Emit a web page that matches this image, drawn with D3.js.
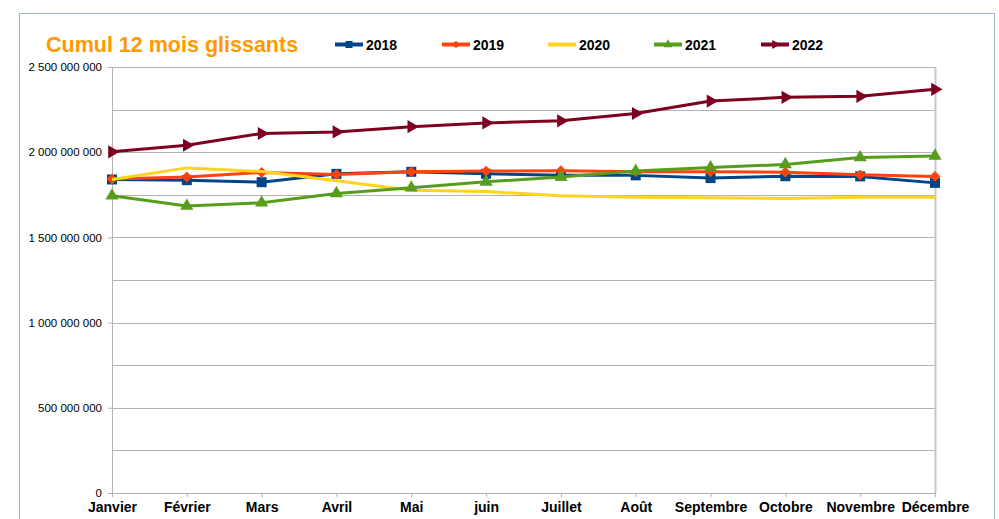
<!DOCTYPE html>
<html>
<head>
<meta charset="utf-8">
<script src="https://cdn.jsdelivr.net/npm/d3@7"></script>
<style>
  body { margin: 0; background: #fff; }
  svg { display: block; font-family: "Liberation Sans", Arial, sans-serif; }
</style>
</head>
<body>
<svg id="chart" width="999" height="519"></svg>
<script>
// data
const months = ["Janvier", "Février", "Mars", "Avril", "Mai", "juin", "Juillet", "Août", "Septembre", "Octobre", "Novembre", "Décembre"];
const years = ["2018", "2019", "2020", "2021", "2022"];
const v2018 = [1840e6, 1836e6, 1824e6, 1873e6, 1885e6, 1873e6, 1864e6, 1864e6, 1848e6, 1859e6, 1858e6, 1820e6];
const v2019 = [1842e6, 1855e6, 1881e6, 1869e6, 1885e6, 1889e6, 1891e6, 1885e6, 1885e6, 1883e6, 1867e6, 1858e6];
const v2020 = [1840e6, 1908e6, 1887e6, 1832e6, 1777e6, 1769e6, 1744e6, 1736e6, 1732e6, 1729e6, 1736e6, 1736e6];
const v2021 = [1744e6, 1684e6, 1703e6, 1758e6, 1791e6, 1826e6, 1855e6, 1889e6, 1910e6, 1928e6, 1969e6, 1978e6];
const v2022 = [2002e6, 2041e6, 2110e6, 2119e6, 2150e6, 2172e6, 2184e6, 2227e6, 2300e6, 2322e6, 2328e6, 2369e6];
const yTicks = [0, 500e6, 1000e6, 1500e6, 2000e6, 2500e6];
const yGrid = d3.range(0, 2500e6 + 1, 250e6);

const series = [
  { name: "2018", values: v2018, color: "#004586", marker: "square" },
  { name: "2019", values: v2019, color: "#ff420e", marker: "diamond" },
  { name: "2020", values: v2020, color: "#ffd320", marker: "none" },
  { name: "2021", values: v2021, color: "#579d1c", marker: "triangle" },
  { name: "2022", values: v2022, color: "#7e0021", marker: "arrow" }
];

const svg = d3.select("#chart");
const margin = { top: 67, right: 64, bottom: 26, left: 112 };
const width = 999 - margin.left - margin.right;
const height = 519 - margin.top - margin.bottom;

// outer frame
svg.append("rect")
  .attr("x", 19.5).attr("y", 13.5)
  .attr("width", 975).attr("height", 530)
  .attr("fill", "none")
  .attr("stroke", "#9bb3d6")
  .attr("stroke-width", 1);

const x = d3.scalePoint().domain(months).range([0, width]);
const y = d3.scaleLinear().domain([0, 2500e6]).range([height, 0]);

const g = svg.append("g").attr("transform", `translate(${margin.left},${margin.top})`);

// gridlines
g.selectAll(".grid")
  .data(yGrid)
  .enter()
  .append("line")
  .attr("x1", 0).attr("x2", width)
  .attr("y1", d => Math.round(y(d)) + 0.5)
  .attr("y2", d => Math.round(y(d)) + 0.5)
  .attr("stroke", "#b3b3b3");

// right border
g.append("line")
  .attr("x1", width + 0.5).attr("x2", width + 0.5)
  .attr("y1", 0).attr("y2", height)
  .attr("stroke", "#c8c8c8").attr("stroke-width", 2);

// y axis
const fmt = v => d3.format(",")(v).replace(/,/g, " ");
const yAxis = g.append("g")
  .call(d3.axisLeft(y).tickValues(yTicks).tickFormat(fmt).tickSize(4).tickSizeOuter(0));
yAxis.select(".domain").attr("stroke", "#b3b3b3");
yAxis.selectAll(".tick line").attr("stroke", "#b3b3b3");
yAxis.selectAll(".tick text")
  .attr("x", -10)
  .style("font-size", "11.5px")
  .style("fill", "#000");

// x axis
const xAxis = g.append("g")
  .attr("transform", `translate(0,${height})`)
  .call(d3.axisBottom(x).tickSize(4).tickSizeOuter(0));
xAxis.select(".domain").attr("stroke", "#b3b3b3");
xAxis.selectAll(".tick line").attr("stroke", "#b3b3b3");
xAxis.selectAll(".tick text")
  .attr("y", 9)
  .style("font-size", "14px")
  .style("font-weight", "bold")
  .style("fill", "#000");

// markers
function markerPath(type, size) {
  if (type === "square") return d3.symbol(d3.symbolSquare, size * size)();
  if (type === "diamond") return d3.symbol(d3.symbolSquare, size * size * 0.6)();
  if (type === "triangle" || type === "arrow") return d3.symbol(d3.symbolTriangle, size * size * 0.75)();
  return null;
}
function markerRotate(type) {
  if (type === "diamond") return 45;
  if (type === "arrow") return 90;
  return 0;
}

const line = d3.line()
  .x((d, i) => x(months[i]))
  .y(d => y(d));

series.forEach(s => {
  g.append("path")
    .datum(s.values)
    .attr("fill", "none")
    .attr("stroke", s.color)
    .attr("stroke-width", 3)
    .attr("stroke-linejoin", "round")
    .attr("d", line);

  if (s.marker !== "none") {
    g.selectAll(null)
      .data(s.values)
      .enter()
      .append("path")
      .attr("d", markerPath(s.marker, 10))
      .attr("transform", (d, i) => `translate(${x(months[i])},${y(d)}) rotate(${markerRotate(s.marker)})`)
      .attr("fill", s.color);
  }
});

// title
svg.append("text")
  .attr("x", 46).attr("y", 52)
  .style("font-size", "21.5px")
  .style("font-weight", "bold")
  .style("fill", "#ff9900")
  .text("Cumul 12 mois glissants");

// legend
const legendX = [335, 442, 548, 654, 761];
series.forEach((s, i) => {
  const lg = svg.append("g").attr("transform", `translate(${legendX[i]},44.5)`);
  lg.append("line")
    .attr("x1", 0).attr("x2", 28)
    .attr("stroke", s.color).attr("stroke-width", 4);
  if (s.marker !== "none") {
    lg.append("path")
      .attr("d", markerPath(s.marker, 7))
      .attr("transform", `translate(14,0) rotate(${markerRotate(s.marker)})`)
      .attr("fill", s.color);
  }
  lg.append("text")
    .attr("x", 31).attr("y", 5)
    .style("font-size", "14px")
    .style("font-weight", "bold")
    .style("fill", "#000")
    .text(s.name);
});
</script>
</body>
</html>
